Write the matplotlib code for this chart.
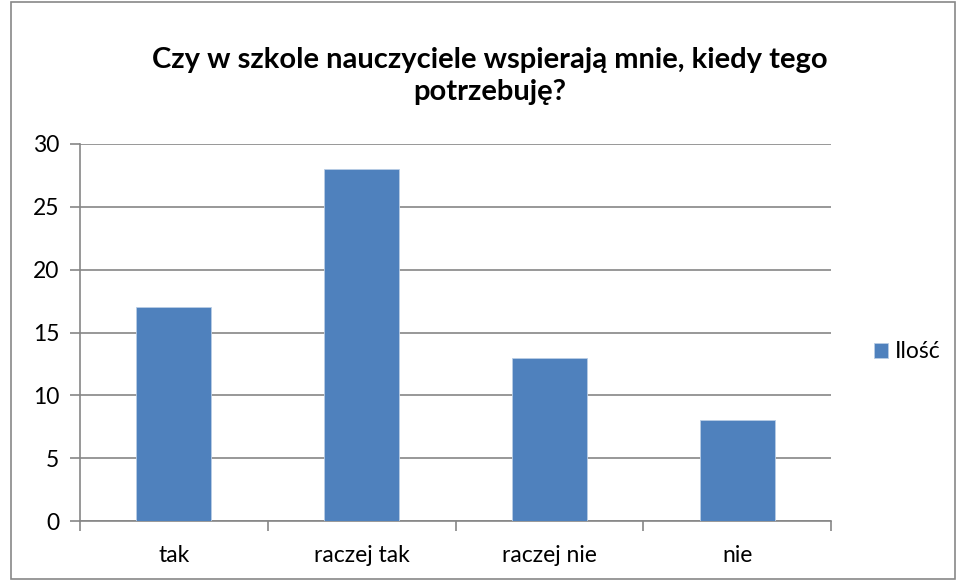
import matplotlib
matplotlib.use("Agg")
import matplotlib.pyplot as plt
from matplotlib.patches import Rectangle

categories = ["tak", "raczej tak", "raczej nie", "nie"]
values = [17, 28, 13, 8]
series_name = "Ilość"
yticks = [0, 5, 10, 15, 20, 25, 30]
title = "Czy w szkole nauczyciele wspierają mnie, kiedy tego\npotrzebuję?"

plt.rcParams['font.family'] = ['Lato', 'DejaVu Sans']
W, H = 957, 580
fig = plt.figure(figsize=(W / 100, H / 100), dpi=100)
ax = fig.add_axes([80 / W, 1 - 521 / H, 751 / W, 377 / H])

grid_c = "#868686"
bar_c = "#4F81BD"
fs = 16.5
x = list(range(len(categories)))
ax.bar(x, values, width=0.4, color=bar_c, edgecolor="#B9CDE5", linewidth=0.6, zorder=3, label=series_name)
ax.set_xlim(-0.5, len(categories) - 0.5)
ax.set_ylim(0, 30)
ax.set_yticks(yticks)
ax.set_yticklabels([str(v) for v in yticks], fontsize=fs)
ax.yaxis.grid(True, color=grid_c, linewidth=1.2, zorder=0)
ax.set_axisbelow(True)

ax.set_xticks(x)
ax.set_xticklabels(categories, fontsize=fs)
ax.tick_params(axis='x', length=0, pad=17)
ax.set_xticks([i - 0.5 for i in range(len(categories) + 1)], minor=True)
ax.tick_params(axis='x', which='minor', length=7, color=grid_c, width=1.2, direction='out')
ax.tick_params(axis='y', length=7, color=grid_c, width=1.2, direction='out', pad=8)

for side in ["top", "right"]:
    ax.spines[side].set_visible(False)
for side in ["left", "bottom"]:
    ax.spines[side].set_color(grid_c)
    ax.spines[side].set_linewidth(1.2)

fig.text(490 / W, 1 - 76 / H, title, ha="center", va="center", fontsize=21,
         fontweight="bold", linespacing=1.25)

leg = ax.legend(loc="center left", bbox_to_anchor=(874 / W, 1 - 352 / H),
                bbox_transform=fig.transFigure, frameon=False, fontsize=fs,
                handlelength=0.6, handleheight=0.6, handletextpad=0.3,
                borderaxespad=0, borderpad=0)

fig.patches.append(Rectangle((11 / W, 1.5 / H), (955 - 11) / W, (578 - 1.5) / H,
                             transform=fig.transFigure, fill=False,
                             edgecolor="#888888", linewidth=1.2))

fig.savefig("out.png", dpi=100)
